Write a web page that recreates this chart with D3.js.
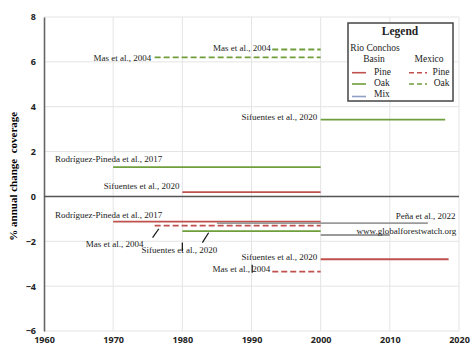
<!DOCTYPE html>
<html>
<head>
<meta charset="utf-8">
<script src="https://cdn.jsdelivr.net/npm/d3@7"></script>
<style>
  body { margin: 0; background: #fff; }
  svg { display: block; }
  .tick text { font-family: "Open Sans", "Liberation Sans", sans-serif; font-weight: bold; font-size: 9px; fill: #222; }
  .lbl { font-family: "Liberation Serif", serif; font-size: 9px; fill: #222; }
</style>
</head>
<body>
<svg id="chart"></svg>
<script>
// one entry per study segment
const refs = [
  "Mas et al., 2004", "Mas et al., 2004", "Sifuentes et al., 2020",
  "Rodríguez-Pineda et al., 2017", "Sifuentes et al., 2020",
  "Rodríguez-Pineda et al., 2017", "Peña et al., 2022", "Mas et al., 2004",
  "Sifuentes et al., 2020", "www.globalforestwatch.org",
  "Sifuentes et al., 2020", "Mas et al., 2004"
];
const startYear = [1976, 1993, 2000, 1970, 1980, 1970, 1985, 1976, 1980, 2000, 2000, 1993];
const endYear   = [2000, 2000, 2018, 2000, 2000, 2000, 2015.5, 2000, 2000, 2010, 2018.5, 2000];
const rate      = [6.2, 6.55, 3.42, 1.31, 0.19, -1.12, -1.19, -1.3, -1.55, -1.72, -2.8, -3.35];
const forest    = ["Oak", "Oak", "Oak", "Oak", "Pine", "Pine", "Mix", "Pine", "Oak", "Mix", "Pine", "Pine"];
const region    = ["Mexico", "Mexico", "Rio", "Rio", "Rio", "Rio", "Rio", "Mexico", "Rio", "Rio", "Rio", "Mexico"];

const xTicks = [1960, 1970, 1980, 1990, 2000, 2010, 2020];
const yTicks = [-6, -4, -2, 0, 2, 4, 6, 8];

const colors = { Pine: "#c0504d", Oak: "#6f9e3c", Mix: "#9a9a9a" };

const W = 474, H = 354;
const margin = { top: 17, right: 15, bottom: 23, left: 44 };

const svg = d3.select("#chart").attr("width", W).attr("height", H);

const x = d3.scaleLinear().domain([1960, 2020]).range([margin.left, W - margin.right]);
const y = d3.scaleLinear().domain([-6, 8]).range([H - margin.bottom, margin.top]);

// grid
svg.append("g").selectAll("line").data(yTicks).join("line")
  .attr("x1", x(1960)).attr("x2", x(2020))
  .attr("y1", d => y(d)).attr("y2", d => y(d))
  .attr("stroke", "#e4e4e4").attr("stroke-width", 1);
svg.append("g").selectAll("line").data(xTicks.slice(1)).join("line")
  .attr("x1", d => x(d)).attr("x2", d => x(d))
  .attr("y1", y(8)).attr("y2", y(-6))
  .attr("stroke", "#e4e4e4").attr("stroke-width", 1);

// axes
const yAxis = svg.append("g")
  .attr("transform", `translate(${x(1960)},0)`)
  .call(d3.axisLeft(y).tickValues(yTicks).tickSize(0).tickPadding(8));
yAxis.select(".domain").attr("stroke", "#666").attr("stroke-width", 1.6);

const xAxis = svg.append("g")
  .attr("transform", `translate(0,${y(-6)})`)
  .call(d3.axisBottom(x).tickValues(xTicks).tickFormat(d3.format("d")).tickSize(0).tickPadding(6));
xAxis.select(".domain").remove();

svg.append("line")
  .attr("x1", x(1960)).attr("x2", x(2020))
  .attr("y1", y(0)).attr("y2", y(0))
  .attr("stroke", "#555").attr("stroke-width", 1.4);

// y title
svg.append("text")
  .attr("transform", `translate(17,${y(0.9)}) rotate(-90)`)
  .attr("text-anchor", "middle")
  .style("font-family", "Liberation Serif, serif")
  .style("font-weight", "bold")
  .style("font-size", "11px")
  .style("white-space", "pre")
  .attr("xml:space", "preserve")
  .text("% annual change  coverage");

// segments
const segs = refs.map((r, i) => ({ ref: r, x0: startYear[i], x1: endYear[i], v: rate[i], f: forest[i], reg: region[i] }));

svg.append("g").selectAll("line").data(segs).join("line")
  .attr("x1", d => x(d.x0)).attr("x2", d => x(d.x1))
  .attr("y1", d => y(d.v)).attr("y2", d => y(d.v))
  .attr("stroke", d => colors[d.f])
  .attr("stroke-width", 1.8)
  .attr("stroke-dasharray", d => d.reg === "Mexico" ? "6,3" : null);

// label placement: [segment index, year, value, anchor]
const labelPos = [
  [0, 1975.5, 6.2, "end"], [1, 1992.8, 6.63, "end"], [2, 1999.5, 3.57, "end"],
  [3, 1961.6, 1.68, "start"], [4, 1979.6, 0.46, "end"], [5, 1961.6, -0.8, "start"],
  [6, 2019.5, -0.85, "end"], [7, 1974.4, -2.11, "end"], [8, 1974.1, -2.38, "start"],
  [9, 2019.6, -1.52, "end"], [10, 1999.5, -2.68, "end"], [11, 1992.7, -3.23, "end"]
];
svg.append("g").selectAll("text").data(labelPos).join("text")
  .attr("class", "lbl")
  .attr("x", d => x(d[1])).attr("y", d => y(d[2]))
  .attr("dy", "0.35em")
  .attr("text-anchor", d => d[3])
  .text(d => refs[d[0]]);

// leader lines and stray marks
const leaders = [
  [1975.7, -1.84, 1976.6, -1.44], [1982.9, -2.06, 1983.8, -1.62],
  [1980, -2.05, 1980, -2.43], [1990.1, -3.05, 1990.1, -3.4]
];
svg.append("g").selectAll("line").data(leaders).join("line")
  .attr("x1", d => x(d[0])).attr("y1", d => y(d[1]))
  .attr("x2", d => x(d[2])).attr("y2", d => y(d[3]))
  .attr("stroke", "#111").attr("stroke-width", 1.2);

// legend
const lg = svg.append("g").attr("transform", "translate(348,23)");
lg.append("rect").attr("width", 105).attr("height", 78)
  .attr("fill", "#fff").attr("stroke", "#444").attr("stroke-width", 1.5);
const lt = (tx, ty, s, anchor, size, bold) => lg.append("text")
  .attr("x", tx).attr("y", ty).attr("dy", "0.35em")
  .attr("text-anchor", anchor)
  .style("font-family", "Liberation Serif, serif")
  .style("font-size", size + "px")
  .style("font-weight", bold ? "bold" : "normal")
  .style("fill", "#222")
  .text(s);
lt(52, 8, "Legend", "middle", 11.5, true);
lt(27, 25, "Rio Conchos", "middle", 9.5);
lt(26, 35.5, "Basin", "middle", 9.5);
lt(81, 35.5, "Mexico", "middle", 9.5);

const legendRio = [["Pine", colors.Pine], ["Oak", colors.Oak], ["Mix", "#8f9fc6"]];
const legendMex = [["Pine", colors.Pine], ["Oak", colors.Oak]];
const rowText = [48.5, 59.6, 70.5], rowLine = [49.7, 61, 73.5];
legendRio.forEach((d, i) => {
  lg.append("line").attr("x1", 4).attr("x2", 18).attr("y1", rowLine[i]).attr("y2", rowLine[i])
    .attr("stroke", d[1]).attr("stroke-width", 1.6);
  lt(26, rowText[i], d[0], "start", 9.5);
});
legendMex.forEach((d, i) => {
  lg.append("line").attr("x1", 61).attr("x2", 79).attr("y1", rowLine[i]).attr("y2", rowLine[i])
    .attr("stroke", d[1]).attr("stroke-width", 1.6).attr("stroke-dasharray", "5,3");
  lt(101.5, rowText[i], d[0], "end", 9.5);
});
</script>
</body>
</html>
